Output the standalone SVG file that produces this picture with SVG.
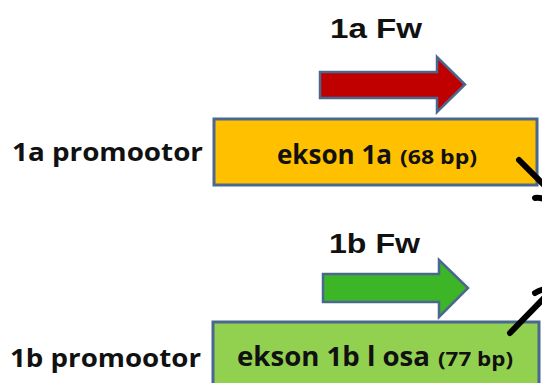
<svg xmlns="http://www.w3.org/2000/svg" width="542" height="383" viewBox="0 0 542 383">
<style>
.box{stroke:#4A6790;stroke-width:3}
.arrow{stroke:#4A6790;stroke-width:2.5;stroke-linejoin:miter}
.lbl{font-family:"Open Sans","Noto Sans",sans-serif;font-weight:bold;fill:#111}
.fw{font-family:"Liberation Sans",Arial,sans-serif;font-weight:bold;font-size:28px;fill:#111}
.conn{stroke:#000;stroke-width:6;stroke-linecap:round;fill:none}
</style>
<rect width="542" height="383" fill="#fff"/>
<g id="label-1a-fw"><text class="fw" x="330" y="38" textLength="92" lengthAdjust="spacingAndGlyphs">1a Fw</text></g>
<g id="arrow-1a"><polygon class="arrow" fill="#C00000" points="320,72 437,72 437,57 465,84.5 437,112 437,98 320,98"/></g>
<g id="promoter-1a"><text class="lbl" x="12" y="161" font-size="25" textLength="191" lengthAdjust="spacingAndGlyphs">1a promootor</text></g>
<g id="exon-1a">
<rect class="box" x="214" y="119" width="323" height="66" fill="#FFC000"/>
<text class="lbl" x="277" y="164" font-size="26" textLength="115" lengthAdjust="spacingAndGlyphs">ekson 1a</text>
<text class="lbl" x="400" y="164" font-size="20" textLength="77" lengthAdjust="spacingAndGlyphs">(68 bp)</text>
</g>
<g id="label-1b-fw"><text class="fw" x="329" y="253" textLength="91" lengthAdjust="spacingAndGlyphs">1b Fw</text></g>
<g id="arrow-1b"><polygon class="arrow" fill="#3CB527" points="323,274 439,274 439,260 468,288 439,317 439,302 323,302"/></g>
<g id="promoter-1b"><text class="lbl" x="10" y="367" font-size="25" textLength="191" lengthAdjust="spacingAndGlyphs">1b promootor</text></g>
<g id="exon-1b">
<rect class="box" x="213" y="322" width="326" height="75" fill="#92D050"/>
<text class="lbl" x="237" y="366" font-size="26" textLength="193" lengthAdjust="spacingAndGlyphs">ekson 1b l osa</text>
<text class="lbl" x="438" y="366" font-size="20" textLength="75" lengthAdjust="spacingAndGlyphs">(77 bp)</text>
</g>
<g id="connectors">
<path class="conn" d="M519,160 L546,187"/>
<path class="conn" d="M535,198 Q540,197 546,200"/>
<path class="conn" d="M510,333 L546,296"/>
<path class="conn" d="M535,293 Q540,290 546,289"/>
</g>
</svg>
